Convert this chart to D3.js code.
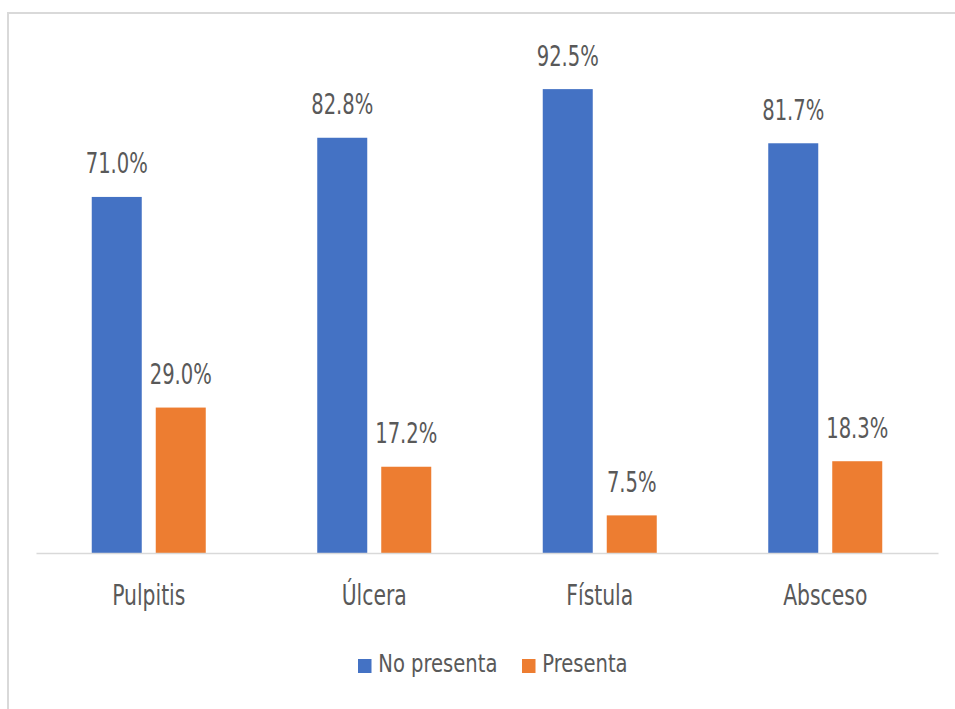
<!DOCTYPE html>
<html>
<head>
<meta charset="utf-8">
<script src="https://cdn.jsdelivr.net/npm/d3@7"></script>
<style>
  html, body { margin: 0; padding: 0; background: #fff; }
  svg { display: block; }
  text { font-family: "DejaVu Sans Condensed", "DejaVu Sans", sans-serif; fill: #595959; }
</style>
</head>
<body>
<svg id="chart" width="955" height="709"></svg>
<script>
// Categories and series (percent)
const categories = ["Pulpitis", "Úlcera", "Fístula", "Absceso"];
const seriesNames = ["No presenta", "Presenta"];
const noPresenta = [71.0, 82.8, 92.5, 81.7];
const presenta = [29.0, 17.2, 7.5, 18.3];
const colors = ["#4472C4", "#ED7D31"];

const rows = categories.map((c, i) => ({ cat: c, values: [noPresenta[i], presenta[i]] }));

const svg = d3.select("#chart");

// Chart frame (outer border, runs past the right and bottom edges)
svg.append("path")
  .attr("d", "M8,712 L8,13 L960,13")
  .attr("fill", "none")
  .attr("stroke", "#D9D9D9")
  .attr("stroke-width", 2);

const plot = { left: 36, right: 938, top: 51.5, bottom: 553 };

const x = d3.scaleBand().domain(categories).range([plot.left, plot.right]).paddingInner(0).paddingOuter(0);
const y = d3.scaleLinear().domain([0, 100]).range([plot.bottom, plot.top]);
const x1 = d3.scaleBand().domain(seriesNames).range([0, 114]).paddingInner(14 / 64);

const groups = svg.selectAll("g.cat").data(rows).join("g")
  .attr("class", "cat")
  .attr("transform", d => `translate(${x(d.cat) + x.bandwidth() / 2 - 57},0)`);

groups.selectAll("rect").data(d => d.values.map((v, i) => ({ v, s: seriesNames[i], i })))
  .join("rect")
  .attr("x", d => x1(d.s))
  .attr("width", x1.bandwidth())
  .attr("y", d => y(d.v))
  .attr("height", d => y(0) - y(d.v))
  .attr("fill", d => colors[d.i]);

// Value labels above each bar
groups.selectAll("text.val").data(d => d.values.map((v, i) => ({ v, s: seriesNames[i] })))
  .join("text")
  .attr("class", "val")
  .attr("transform", d => `translate(${x1(d.s) + x1.bandwidth() / 2},${y(d.v) - 23.5}) scale(0.75,1)`)
  .attr("text-anchor", "middle")
  .attr("font-size", 29)
  .text(d => d.v.toFixed(1) + "%");

// Category axis
const xAxis = svg.append("g").attr("transform", `translate(0,${plot.bottom})`)
  .call(d3.axisBottom(x).tickSize(0).tickPadding(0));
xAxis.select(".domain").attr("stroke", "#D9D9D9").attr("stroke-width", 1.5);
xAxis.selectAll(".tick text")
  .attr("y", 0)
  .attr("dy", 0)
  .attr("transform", "translate(0,51.5) scale(0.78,1)")
  .attr("font-size", 29)
  .attr("fill", "#595959")
  .style("font-family", "'DejaVu Sans Condensed', 'DejaVu Sans', sans-serif");

// Legend
const legend = svg.append("g").attr("transform", "translate(358,659)");
const legendX = [0, 164];
seriesNames.forEach((name, i) => {
  const g = legend.append("g").attr("transform", `translate(${legendX[i]},0)`);
  g.append("rect").attr("width", 13.5).attr("height", 14).attr("fill", colors[i]);
  g.append("text")
    .attr("transform", "translate(20.3,13.3) scale(0.87,1)")
    .attr("font-size", 25)
    .text(name);
});
</script>
</body>
</html>
